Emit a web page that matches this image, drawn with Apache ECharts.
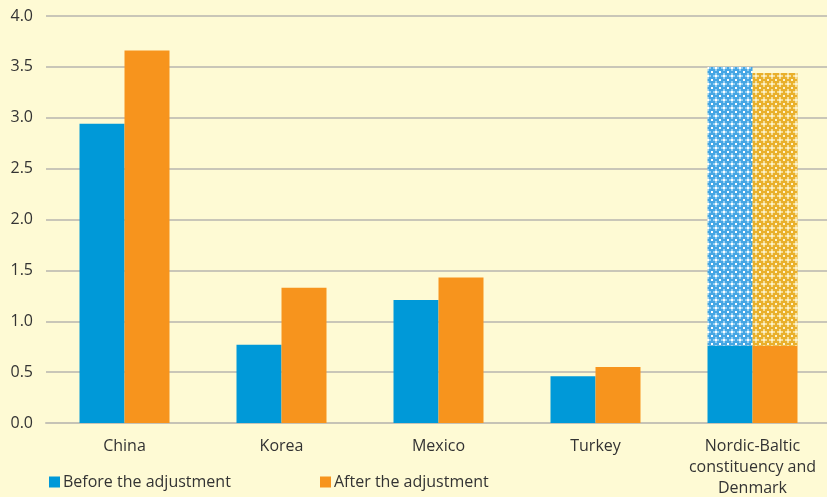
<!DOCTYPE html>
<html><head><meta charset="utf-8">
<script src="https://cdn.jsdelivr.net/npm/echarts@6/dist/echarts.min.js"></script>
<style>html,body{margin:0;padding:0;background:#fefad4;}#c{width:827px;height:497px;}</style>
</head><body><div id="c"></div>
<script>
var categories = ['China', 'Korea', 'Mexico', 'Turkey', 'Nordic-Baltic\nconstituency and\nDenmark'];
var beforeSolid = [2.94, 0.77, 1.21, 0.46, 0.76];
var afterSolid = [3.66, 1.33, 1.43, 0.55, 0.76];
var beforeHatched = [null, null, null, null, 2.74];
var afterHatched = [null, null, null, null, 2.68];
var yTicks = [0, 0.5, 1, 1.5, 2, 2.5, 3, 3.5, 4];

function makePattern(base, light, dot) {
  var c = document.createElement('canvas');
  c.width = 8; c.height = 8;
  var g = c.getContext('2d');
  g.fillStyle = base; g.fillRect(0, 0, 8, 8);
  g.fillStyle = light;
  g.fillRect(3, 1, 2, 6); g.fillRect(1, 3, 6, 2);
  g.fillStyle = dot;
  g.fillRect(0, 0, 1, 1); g.fillRect(7, 0, 1, 1); g.fillRect(0, 7, 1, 1); g.fillRect(7, 7, 1, 1);
  g.fillRect(3, 3, 2, 2);
  return c;
}
var bluePat = makePattern('#45a6e4', '#93cff3', '#ffffff');
var orangePat = makePattern('#e9b02c', '#f5dd96', '#fdf3cf');

var chart = echarts.init(document.getElementById('c'));
var font = '"Open Sans", "Noto Sans", sans-serif';
chart.setOption({
  backgroundColor: '#fefad4',
  animation: false,
  textStyle: { fontFamily: font },
  grid: { left: 46, right: -4, top: 16, bottom: 74, containLabel: false, outerBoundsMode: 'none' },
  legend: [
    { data: ['Before the adjustment'], left: 44, top: 469, itemWidth: 11, itemHeight: 11, itemGap: 0,
      icon: 'rect', textStyle: { fontSize: 16, color: '#333', fontFamily: font, padding: [0, 0, 0, -2] } },
    { data: ['After the adjustment'], left: 315, top: 469, itemWidth: 11, itemHeight: 11, itemGap: 0,
      icon: 'rect', textStyle: { fontSize: 16, color: '#333', fontFamily: font, padding: [0, 0, 0, -2] } }
  ],
  xAxis: {
    type: 'category', data: categories,
    axisLine: { lineStyle: { color: '#c6c3b6', width: 2 } },
    axisTick: { inside: true, length: 5, lineStyle: { color: '#b8b5a8' } },
    axisLabel: { interval: 0, fontSize: 16, color: '#333', margin: 13, lineHeight: 21, fontFamily: font }
  },
  yAxis: {
    type: 'value', min: 0, max: 4, interval: 0.5,
    axisLine: { show: false }, axisTick: { show: false },
    splitLine: { lineStyle: { color: '#c9c6b8', width: 2 } },
    axisLabel: { fontSize: 16, color: '#333', margin: 13, fontFamily: font,
      formatter: function (v) { return v.toFixed(1); } }
  },
  series: [
    { name: 'Before the adjustment', type: 'bar', stack: 'b', data: beforeSolid,
      barWidth: 45, barGap: '0%', itemStyle: { color: '#0099d8' } },
    { name: 'Before hatched', type: 'bar', stack: 'b', data: beforeHatched,
      barWidth: 45, itemStyle: { color: { image: bluePat, repeat: 'repeat' } } },
    { name: 'After the adjustment', type: 'bar', stack: 'o', data: afterSolid,
      barWidth: 45, barGap: '0%', itemStyle: { color: '#f7941d' } },
    { name: 'After hatched', type: 'bar', stack: 'o', data: afterHatched,
      barWidth: 45, itemStyle: { color: { image: orangePat, repeat: 'repeat' } } }
  ]
});
</script></body></html>
